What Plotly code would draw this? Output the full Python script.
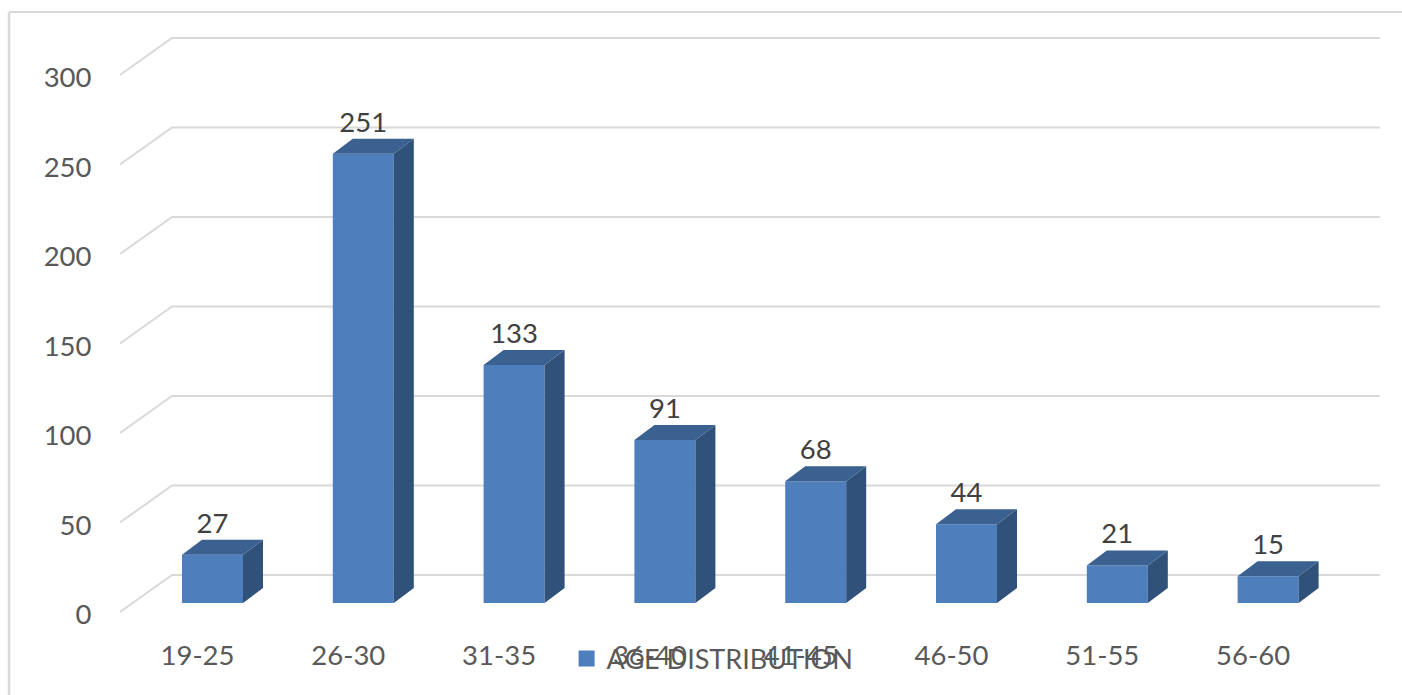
import plotly.graph_objects as go

# Age bands and head counts
categories = ["19-25", "26-30", "31-35", "36-40", "41-45", "46-50", "51-55", "56-60"]
counts = [27, 251, 133, 91, 68, 44, 21, 15]
axis_ticks = [0, 50, 100, 150, 200, 250, 300]
series_name = "AGE DISTRIBUTION"

FONT = "Lato"
FRONT_COLOR = "#4E7FBC"
TOP_COLOR = "#3A6190"
SIDE_COLOR = "#305179"
GRID_COLOR = "#D9D9D9"

# Scale of the plot area, used only to express the 3D depth in data units
PX_PER_CAT = 150.8
PX_PER_UNIT = 1.79
X_RANGE = [-0.6134, 7.742]
Y_RANGE = [-6.7, 320.1]

BAR_W = 61 / PX_PER_CAT
DEPTH_X = 20 / PX_PER_CAT
DEPTH_Y = 15 / PX_PER_UNIT
WALL_X = X_RANGE[0] + 52 / PX_PER_CAT
FLOOR_DROP = 9 / PX_PER_UNIT       # front edge of the floor, below the bar base
WALL_RISE = 28 / PX_PER_UNIT       # back edge of the floor, above the bar base
LABEL_SHIFT = 15 / PX_PER_CAT      # category labels sit on the front edge
TICK_DROP = 11.5 / PX_PER_UNIT     # value labels sit slightly under the front edge
VALUE_GAP = 29 / PX_PER_UNIT

# Gridlines run along the floor/side wall, then across the back wall
grid_x, grid_y = [], []
for t in axis_ticks:
    grid_x += [X_RANGE[0], WALL_X, X_RANGE[1], None]
    grid_y += [t - FLOOR_DROP, t + WALL_RISE, t + WALL_RISE, None]

# Top and side faces of each column
top_x, top_y, side_x, side_y = [], [], [], []
for i, v in enumerate(counts):
    l, r = i - BAR_W / 2, i + BAR_W / 2
    top_x += [l, r, r + DEPTH_X, l + DEPTH_X, l, None]
    top_y += [v, v, v + DEPTH_Y, v + DEPTH_Y, v, None]
    side_x += [r, r + DEPTH_X, r + DEPTH_X, r, r, None]
    side_y += [0, DEPTH_Y, v + DEPTH_Y, v, 0, None]

xs = list(range(len(categories)))

fig = go.Figure()
# Walls live on the lower subplot so the columns cover them
fig.add_trace(go.Scatter(x=grid_x, y=grid_y, mode="lines", showlegend=False, hoverinfo="skip",
                         line=dict(color=GRID_COLOR, width=2)))
fig.add_trace(go.Bar(x=xs, y=counts, width=BAR_W, yaxis="y2",
                     marker=dict(color=FRONT_COLOR, line=dict(width=0)), showlegend=False))
fig.add_trace(go.Scatter(x=side_x, y=side_y, yaxis="y2", mode="lines", fill="toself",
                         fillcolor=SIDE_COLOR, line=dict(width=0), showlegend=False, hoverinfo="skip"))
fig.add_trace(go.Scatter(x=top_x, y=top_y, yaxis="y2", mode="lines", fill="toself",
                         fillcolor=TOP_COLOR, line=dict(width=0), showlegend=False, hoverinfo="skip"))
fig.add_trace(go.Scatter(x=xs, y=[v + VALUE_GAP for v in counts], yaxis="y2", mode="text",
                         text=[str(v) for v in counts], textposition="middle center",
                         textfont=dict(family=FONT, size=27.5, color="#404040"),
                         showlegend=False, hoverinfo="skip"))
# Legend key only
fig.add_trace(go.Scatter(x=[None], y=[None], yaxis="y2", mode="markers", name=series_name,
                         marker=dict(symbol="square", size=19, color=FRONT_COLOR)))

PLOT_LEFT, PLOT_WIDTH, PLOT_BOTTOM, PLOT_HEIGHT = 120, 1260, 615, 585


def paper_x(px):
    return (px - PLOT_LEFT) / PLOT_WIDTH


def paper_y(py):
    return (PLOT_BOTTOM - py) / PLOT_HEIGHT


fig.update_layout(
    width=1402, height=695, autosize=False,
    margin=dict(l=120, r=22, t=30, b=80),
    paper_bgcolor="white", plot_bgcolor="rgba(0,0,0,0)",
    barmode="overlay",
    font=dict(family=FONT, size=27.5, color="#595959"),
    xaxis=dict(range=X_RANGE, showgrid=False, zeroline=False, showline=False,
               tickmode="array", tickvals=[i - LABEL_SHIFT for i in xs], ticktext=categories,
               ticks="outside", ticklen=16, tickcolor="rgba(0,0,0,0)",
               tickfont=dict(family=FONT, size=27.5, color="#595959")),
    yaxis=dict(range=Y_RANGE, showgrid=False, zeroline=False, showline=False,
               tickmode="array", tickvals=[t - TICK_DROP for t in axis_ticks],
               ticktext=[str(t) for t in axis_ticks],
               ticks="outside", ticklen=22, tickcolor="rgba(0,0,0,0)",
               tickfont=dict(family=FONT, size=27.5, color="#595959")),
    yaxis2=dict(range=Y_RANGE, overlaying="y", visible=False),
    legend=dict(orientation="h", x=paper_x(566.6), y=paper_y(659), xanchor="left", yanchor="middle",
                bgcolor="rgba(0,0,0,0)", font=dict(family=FONT, size=27, color="#595959")),
    # Chart frame: only the top and left edges are visible
    shapes=[dict(type="line", xref="paper", yref="paper",
                 x0=paper_x(9), x1=paper_x(1402), y0=paper_y(12), y1=paper_y(12),
                 line=dict(color="#D9D9D9", width=2), layer="below"),
            dict(type="line", xref="paper", yref="paper",
                 x0=paper_x(9), x1=paper_x(9), y0=paper_y(12), y1=paper_y(695),
                 line=dict(color="#D9D9D9", width=2.5), layer="below")],
)

fig.write_html("out.html")
